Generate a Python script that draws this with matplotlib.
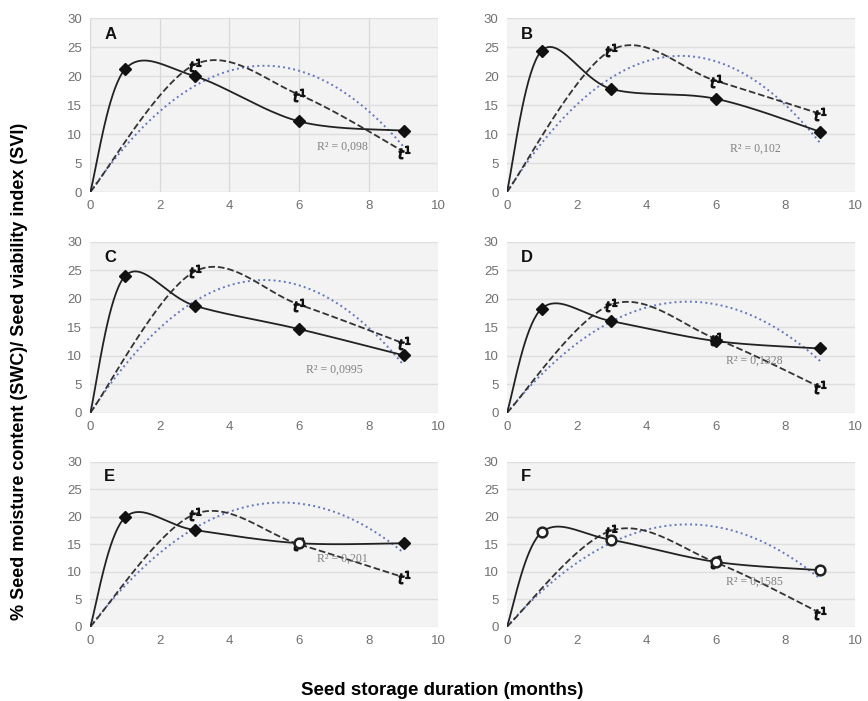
import matplotlib
matplotlib.use("Agg")
import matplotlib.pyplot as plt
import numpy as np

plt.rcParams['font.family'] = ['Liberation Sans', 'DejaVu Sans']

months = [0, 1, 3, 6, 9]
panels = ['A', 'B', 'C', 'D', 'E', 'F']

# solid line (diamonds), starts at 0
swc = {
    'A': [0, 21.2, 20.0, 12.2, 10.6],
    'B': [0, 24.4, 17.8, 16.1, 10.4],
    'C': [0, 24.0, 18.8, 14.7, 10.1],
    'D': [0, 18.3, 16.1, 12.6, 11.3],
    'E': [0, 19.9, 17.6, 15.2, 15.2],
    'F': [0, 17.2, 15.8, 11.8, 10.3],
}

# dashed line (t1 marks)
svi_months = [0, 3, 6, 9]
svi = {
    'A': [0, 22.0, 16.8, 7.0],
    'B': [0, 24.5, 19.2, 13.5],
    'C': [0, 24.8, 19.0, 12.2],
    'D': [0, 19.0, 13.0, 4.5],
    'E': [0, 20.5, 15.0, 9.0],
    'F': [0, 17.5, 11.7, 2.5],
}

# dotted polynomial trendline coefficients (x^2, x, 1)
trend = {
    'A': [-0.872, 8.72, 0],
    'B': [-0.94, 9.40, 0],
    'C': [-0.932, 9.32, 0],
    'D': [-0.721, 7.50, 0],
    'E': [-0.747, 8.22, 0],
    'F': [-0.688, 7.16, 0],
}

r2_text = {'A': 'R² = 0,098', 'B': 'R² = 0,102', 'C': 'R² = 0,0995',
           'D': 'R² = 0,1328', 'E': 'R² = 0,201', 'F': 'R² = 0,1585'}
r2_pos = {'A': (6.5, 7.3), 'B': (6.4, 7.0), 'C': (6.2, 7.0),
          'D': (6.3, 8.6), 'E': (6.5, 11.8), 'F': (6.3, 7.6)}


def smooth(xs, ys, n=40):
    # excel-like smoothed line (catmull-rom bezier)
    p = np.column_stack([xs, ys]).astype(float)
    pts = np.vstack([p[0], p, p[-1]])
    out = []
    t = np.linspace(0, 1, n)[:, None]
    for i in range(1, len(pts) - 2):
        p0, p1 = pts[i], pts[i + 1]
        c1 = p0 + (pts[i + 1] - pts[i - 1]) / 6
        c2 = p1 - (pts[i + 2] - pts[i]) / 6
        seg = ((1 - t) ** 3) * p0 + 3 * ((1 - t) ** 2) * t * c1 + 3 * (1 - t) * t ** 2 * c2 + t ** 3 * p1
        out.append(seg)
    out = np.vstack(out)
    return out[:, 0], out[:, 1]


fig = plt.figure(figsize=(8.68, 7.01), dpi=100)

lefts = [0.104, 0.584]
rows = [(0.726, 0.248), (0.411, 0.244), (0.106, 0.235)]

for k, name in enumerate(panels):
    r, c = divmod(k, 2)
    ax = fig.add_axes([lefts[c], rows[r][0], 0.401, rows[r][1]])
    ax.set_facecolor('#f3f3f3')
    ax.set_xlim(0, 10)
    ax.set_ylim(0, 30)
    ax.set_xticks([0, 2, 4, 6, 8, 10])
    ax.set_yticks([0, 5, 10, 15, 20, 25, 30])
    ax.grid(axis='y', color='#dedede', linewidth=1)
    if name == 'A':
        ax.grid(axis='x', color='#d8d8d8', linewidth=0.9)
    ax.set_axisbelow(True)
    for s in ax.spines.values():
        s.set_visible(False)
    ax.tick_params(length=0, labelsize=9.5, colors='#707070', pad=6)

    # dotted trendline
    xt = np.linspace(0, 9, 100)
    ax.plot(xt, np.polyval(trend[name], xt), ':', color='#6477c0', lw=1.4)

    # dashed line
    dx, dy = smooth(svi_months, svi[name])
    ax.plot(dx, dy, '--', color='#333333', lw=1.3)
    ax.plot(svi_months[1:], svi[name][1:], ls='none', marker=r'$t^1$',
            ms=9, color='#111111')

    # solid line
    sx, sy = smooth(months, swc[name])
    ax.plot(sx, sy, '-', color='#222222', lw=1.3)
    if name == 'F':
        ax.plot(months[1:], swc[name][1:], ls='none', marker='o', ms=7,
                mfc='white', mec='#222222', mew=1.8)
    elif name == 'E':
        ax.plot([1, 3, 9], [swc[name][1], swc[name][2], swc[name][4]], ls='none',
                marker='D', ms=6, color='#111111')
        ax.plot([6], [swc[name][3]], ls='none', marker='o', ms=7,
                mfc='white', mec='#222222', mew=1.8)
    else:
        ax.plot(months[1:], swc[name][1:], ls='none', marker='D', ms=6, color='#111111')

    ax.text(r2_pos[name][0], r2_pos[name][1], r2_text[name], fontsize=8.5,
            color='#808080', family=['Liberation Serif', 'DejaVu Serif'])
    ax.text(0.4, 26.5, name, fontsize=12, fontweight='bold', color='#111111')

fig.text(0.022, 0.47, '% Seed moisture content (SWC)/ Seed viability index (SVI)',
         rotation=90, ha='center', va='center', fontsize=13, fontweight='bold')
fig.text(0.51, 0.003, 'Seed storage duration (months)', ha='center', va='bottom',
         fontsize=13.5, fontweight='bold')

fig.savefig('out.png', dpi=100)
